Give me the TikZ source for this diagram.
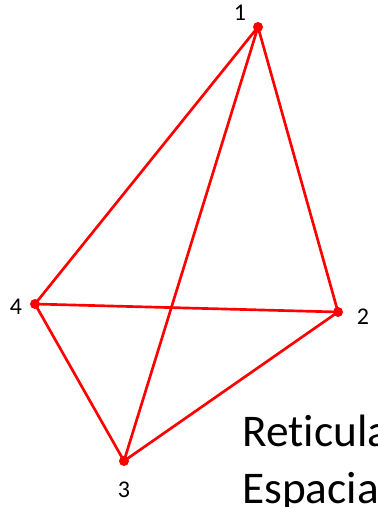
\documentclass[tikz,border=0pt]{standalone}
\usepackage{fontspec}
\setmainfont[Ligatures=NoCommon]{Carlito}
\tikzset{
  vert/.style={circle, fill=red, inner sep=0pt, minimum size=7.5pt},
  edge/.style={red, line width=2pt},
  num/.style={font=\fontsize{18}{20}\selectfont},
}
\begin{document}
\begin{tikzpicture}[x=0.75pt, y=-0.75pt]
            \useasboundingbox (0,0) rectangle (378,507);
            \clip (0,0) rectangle (378,507);
            \node[vert] (n1) at (258,27) {};
            \node[vert] (n2) at (338,312) {};
            \node[vert] (n3) at (124,461) {};
            \node[vert] (n4) at (35,304) {};
            \draw[edge] (n1.center) -- (n4.center) -- (n3.center) -- (n2.center) -- (n1.center) -- (n3.center);
            \draw[edge] (n4.center) -- (n2.center);
            \node[num] (l1) at (240,13) {1};
            \node[num] (l2) at (363,317) {2};
            \node[num] (l3) at (124,490) {3};
            \node[num] (l4) at (16,307) {4};
            \node[anchor=base west, inner sep=0pt, font=\fontsize{34}{40}\selectfont] (t1) at (242,446) {Reticula};
            \node[anchor=base west, inner sep=0pt, font=\fontsize{34}{40}\selectfont] (t2) at (242,503) {Espacia};
        \end{tikzpicture}
\end{document}
